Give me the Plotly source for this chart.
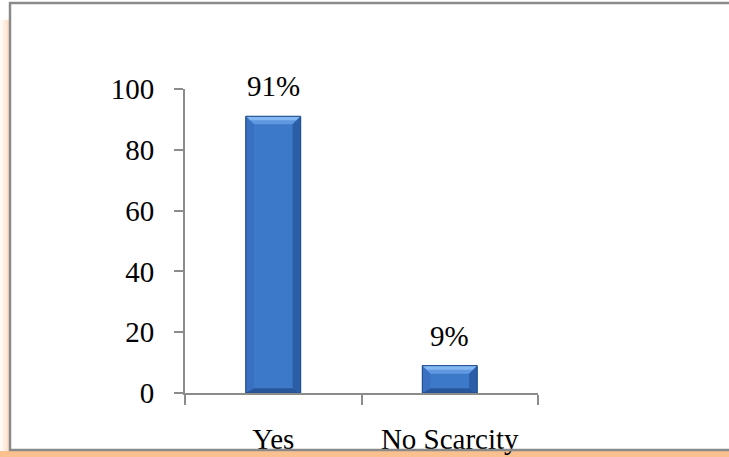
import plotly.graph_objects as go

categories = ["Yes", "No Scarcity"]
values = [91, 9]
value_labels = ["91%", "9%"]
y_ticks = [0, 20, 40, 60, 80, 100]

W, H = 729, 457
FONT = "Liberation Serif"
FS = 29
AXIS_GREY = "#8c8c8c"

# plot area in pixels
PX_L, PX_R, PX_T, PX_B = 185, 538, 89, 393
BAR_W = 0.31
# bevel depth in data units (about 8 px on each axis)
BEV_X = 8 / ((PX_R - PX_L) / 2)
BEV_Y = 8 / ((PX_B - PX_T) / 100)

xs = list(range(len(categories)))

fig = go.Figure()

# bar faces
fig.add_trace(go.Bar(
    x=xs, y=values, width=BAR_W,
    marker=dict(color="#3d79c9", line=dict(color="#1f4a88", width=1)),
    hoverinfo="skip",
))


def poly(px, py, color):
    fig.add_trace(go.Scatter(
        x=px + [px[0]], y=py + [py[0]], mode="lines",
        fill="toself", fillcolor=color, line=dict(width=0),
        hoverinfo="skip",
    ))


# bevelled edges on each bar
for x, v in zip(xs, values):
    l, r = x - BAR_W / 2, x + BAR_W / 2
    bx, by = BEV_X, min(BEV_Y, v / 3)
    poly([l, r, r - bx, l + bx], [v, v, v - by, v - by], "#5f98e0")
    poly([l, r, r - bx * 0.5, l + bx * 0.5], [v, v, v - by * 0.5, v - by * 0.5], "#84b8f3")
    poly([r, r, r - bx, r - bx], [v, 0, by * 0.6, v - by], "#2c5ea8")
    poly([l, l, l + bx, l + bx], [v, 0, by * 0.6, v - by], "#3970bf")
    poly([l, r, r - bx, l + bx], [0, 0, by * 0.6, by * 0.6], "#28569b")
    # dark outline
    fig.add_trace(go.Scatter(
        x=[l, r, r, l, l], y=[0, 0, v, v, 0], mode="lines",
        line=dict(color="#23508f", width=1), hoverinfo="skip",
    ))

# value labels above the bars
for x, v, t in zip(xs, values, value_labels):
    fig.add_annotation(x=x, y=v, text=t, showarrow=False, yanchor="bottom",
                       yshift=12, font=dict(family=FONT, size=FS, color="#000"))

fig.update_layout(
    width=W, height=H,
    margin=dict(l=0, r=0, t=0, b=0, autoexpand=False),
    paper_bgcolor="white", plot_bgcolor="white",
    showlegend=False,
    font=dict(family=FONT, size=FS, color="#000"),
    xaxis=dict(
        domain=[PX_L / W, PX_R / W],
        range=[-0.5, 1.5], automargin=False,
        tickvals=xs, ticktext=categories, ticks="",
        minor=dict(tickvals=[-0.5, 0.5, 1.5], ticks="outside", ticklen=10,
                   tickcolor=AXIS_GREY, tickwidth=2, showgrid=False),
        showline=True, linecolor=AXIS_GREY, linewidth=2,
        showgrid=False, zeroline=False,
        ticklabelstandoff=19,
        tickfont=dict(family=FONT, size=FS),
    ),
    yaxis=dict(
        domain=[1 - PX_B / H, 1 - PX_T / H],
        range=[0, 100], tickvals=y_ticks, automargin=False,
        showline=True, linecolor=AXIS_GREY, linewidth=2,
        ticks="outside", ticklen=9, tickcolor=AXIS_GREY, tickwidth=2,
        showgrid=False, zeroline=False,
        ticklabelstandoff=14,
        tickfont=dict(family=FONT, size=FS),
    ),
)

# soft orange glow outside the chart frame
for alpha, inset in [(0.08, 0), (0.14, 3), (0.22, 6)]:
    fig.add_shape(type="rect", xref="paper", yref="paper",
                  x0=inset / W, x1=10 / W, y0=0, y1=1 - 20 / H,
                  fillcolor=f"rgba(250,180,120,{alpha})", line_width=0, layer="below")
fig.add_shape(type="rect", xref="paper", yref="paper",
              x0=0, x1=1, y0=0, y1=1 - 451 / H,
              fillcolor="#fac08f", line_width=0, layer="below")

# chart frame
fig.add_shape(type="rect", xref="paper", yref="paper",
              x0=10 / W, x1=1 + 10 / W, y0=1 - 450 / H, y1=1 - 3 / H,
              line=dict(color="#8a8a8a", width=2.5), fillcolor="rgba(0,0,0,0)")

fig.write_html("out.html")
